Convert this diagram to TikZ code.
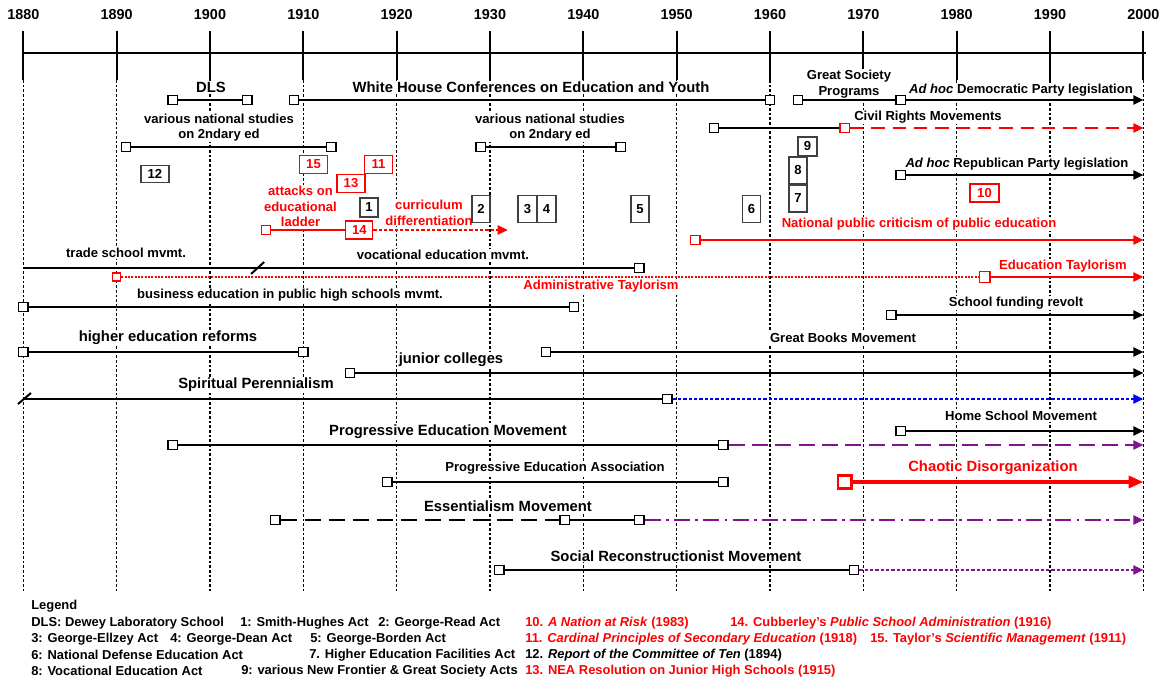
\documentclass[tikz,border=0pt]{standalone}
\usepackage{fontspec}
\setmainfont{Liberation Sans}
\usetikzlibrary{arrows.meta}
\definecolor{myred}{RGB}{255,0,0}
\definecolor{mypurple}{RGB}{128,20,140}
\definecolor{myblue}{RGB}{0,0,255}
\tikzset{
 big/.style={font=\bfseries\fontsize{11.1}{12}\selectfont, fill=white, inner sep=0.6pt, align=center},
 med/.style={font=\bfseries\fontsize{9.8}{11.8}\selectfont, fill=white, inner sep=0.6pt, align=center},
 yrlab/.style={font=\bfseries\fontsize{10.8}{13}\selectfont, inner sep=0pt},
 sq/.style={rectangle, draw=black, fill=white, line width=1pt, minimum size=7pt, inner sep=0pt},
 rsq/.style={sq, draw=myred},
 tl/.style={line width=1pt},
 arr/.style={-{Triangle[length=7.5pt,width=7pt]}},
 nbox/.style={rectangle, draw=black!75, fill=white, line width=0.9pt, font=\bfseries\fontsize{9.8}{12}\selectfont, inner sep=0pt},
 rbox/.style={nbox, draw=myred, text=myred},
 gridline/.style={line width=1pt, dash pattern=on 2pt off 1.5pt},
 leg/.style={font=\bfseries\fontsize{9.7}{12}\selectfont, anchor=west, inner sep=0pt},
}
\begin{document}
\begin{tikzpicture}[x=0.75pt,y=-0.75pt]
\useasboundingbox (0,0) rectangle (1165,681);
\fill[white] (0,0) rectangle (1165,681);

% ---------- grid and axis (years: t = year-1880) ----------
\begin{scope}[xshift=17.5pt,x=7pt]
\foreach \t/\yr in {0/1880,10/1890,20/1900,30/1910,40/1920,50/1930,60/1940,70/1950,80/1960,90/1970,100/1980,110/1990,120/2000}{
  \draw[line width=1.5pt] (\t,31) -- (\t,80);
  \draw[gridline] (\t,80) -- (\t,592);
  \node[yrlab] (y\yr) at (\t,15) {\yr};
}
\draw[line width=2pt] (0,53) -- (120.3,53);
\end{scope}

% ---------- labels ----------
\node[big] (tDLS) at (211,87) {DLS};
\node[big] (tWH) at (531,87) {White House Conferences on Education and Youth};
\node[med] (tGS) at (849,84) {Great Society\\Programs};
\node[med] (tDem) at (1021,90) {\textit{Ad hoc} Democratic Party legislation};
\node[med] (tNS1) at (219,127.5) {various national studies\\on 2ndary ed};
\node[med] (tNS2) at (550,127.5) {various national studies\\on 2ndary ed};
\node[med] (tCR) at (928,117) {Civil Rights Movements};
\node[med] (tRep) at (1017,164) {\textit{Ad hoc} Republican Party legislation};
\node[med, text=myred] (tAtt) at (300.5,206.5) {attacks on\\educational\\ladder};
\node[med, text=myred] (tCur) at (429,213) {curriculum\\differentiation};
\node[med, text=myred] (tNP) at (919,224) {National public criticism of public education};
\node[med] (tTS) at (126,253) {trade school mvmt.};
\node[med] (tVE) at (443,255) {vocational education mvmt.};
\node[med, text=myred] (tAT) at (601,286) {Administrative Taylorism};
\node[med, text=myred] (tET) at (1063,266) {Education Taylorism};
\node[med] (tBE) at (290,295) {business education in public high schools mvmt.};
\node[med] (tSF) at (1016,303) {School funding revolt};
\node[big] (tHE) at (168,338) {higher education reforms};
\node[med] (tGB) at (843,338) {Great Books Movement};
\node[big] (tJC) at (451,360) {junior colleges};
\node[big] (tSP) at (256,385) {Spiritual Perennialism};
\node[med] (tHS) at (1021,416) {Home School Movement};
\node[big] (tPM) at (448,432) {Progressive Education Movement};
\node[med] (tPA) at (555,468) {Progressive Education Association};
\node[big, text=myred] (tCD) at (993,468) {Chaotic Disorganization};
\node[big] (tEM) at (508,506) {Essentialism Movement};
\node[big] (tSR) at (676,556) {Social Reconstructionist Movement};

% ---------- numbered boxes ----------
\node[nbox, minimum width=21pt, minimum height=12.75pt] (b12) at (155,174) {12};
\node[rbox, minimum width=21pt, minimum height=13.5pt] (b15) at (313.5,164.5) {15};
\node[rbox, minimum width=21pt, minimum height=13.5pt] (b11) at (378.5,164.5) {11};
\node[rbox, minimum width=21pt, minimum height=14pt] (b13) at (351,183.5) {13};
\node[nbox, minimum width=13.5pt, minimum height=14.25pt] (b1) at (369,207.5) {1};
\node[nbox, minimum width=13.5pt, minimum height=20.25pt] (b2) at (481,209) {2};
\node[nbox, minimum width=14.25pt, minimum height=20.25pt] (b3) at (527.5,209) {3};
\node[nbox, minimum width=14.25pt, minimum height=20.25pt] (b4) at (546.5,209) {4};
\node[nbox, minimum width=13.5pt, minimum height=20.25pt] (b5) at (640,209) {5};
\node[nbox, minimum width=13.5pt, minimum height=20.25pt] (b6) at (751.5,209) {6};
\node[nbox, minimum width=14.25pt, minimum height=14.25pt] (b9) at (807.5,146.5) {9};
\node[nbox, minimum width=13.5pt, minimum height=20.25pt] (b8) at (798,170.5) {8};
\node[nbox, minimum width=13.5pt, minimum height=20.25pt] (b7) at (798,198.5) {7};
\node[rbox, minimum width=21.75pt, minimum height=13.5pt] (b10) at (984.5,193) {10};

% ---------- timelines ----------
\begin{scope}[xshift=17.5pt,x=7pt]
% row 100
\node[sq] (dls1) at (16,100) {}; \node[sq] (dls2) at (24,100) {};
\draw[tl] (dls1) -- (dls2);
\node[sq] (wh1) at (29,100) {}; \node[sq] (wh2) at (80,100) {};
\draw[tl] (wh1) -- (wh2);
\node[sq] (gs1) at (83,100) {}; \node[sq] (gs2) at (94,100) {};
\coordinate (gsE) at (120,100);
\draw[tl] (gs1) -- (gs2); \draw[tl,arr] (gs2) -- (gsE);
% civil rights
\node[sq] (cr1) at (74,128) {}; \node[rsq] (cr2) at (88,128) {};
\coordinate (crE) at (120,128);
\draw[tl] (cr1) -- (cr2);
\draw[tl,myred,arr,dash pattern=on 10pt off 6pt] (cr2) -- (crE);
% national studies
\node[sq] (ns1) at (11,147) {}; \node[sq] (ns2) at (33,147) {};
\draw[tl] (ns1) -- (ns2);
\node[sq] (ns3) at (49,147) {}; \node[sq] (ns4) at (64,147) {};
\draw[tl] (ns3) -- (ns4);
% republican
\node[sq] (rp1) at (94,175) {}; \coordinate (rpE) at (120,175);
\draw[tl,arr] (rp1) -- (rpE);
% attacks / curriculum
\node[rsq] (at1) at (26,230) {};
\node[rbox, minimum width=20.25pt, minimum height=13.5pt] (b14) at (36,230) {14};
\coordinate (atE) at (51.9,230);
\draw[tl,myred] (at1) -- (b14);
\draw[tl,myred,arr,dash pattern=on 2.5pt off 1.5pt] (b14) -- (atE);
% national public criticism
\node[rsq] (np1) at (72,240) {}; \coordinate (npE) at (120,240);
\draw[tl,myred,arr] (np1) -- (npE);
% trade / vocational
\coordinate (ts0) at (0,268); \node[sq] (ts1) at (66,268) {};
\draw[tl] (ts0) -- (ts1);
\draw[line width=1.5pt] (24.4,274) -- (25.8,262);
% administrative / education taylorism
\node[rsq, minimum size=6pt, line width=0.8pt] (adm1) at (10,277) {};
\node[rsq, minimum size=8pt, line width=1.2pt] (adm2) at (103,277) {};
\coordinate (admE) at (120,277);
\draw[myred,line width=0.8pt,dash pattern=on 1.5pt off 1pt] (adm1) -- (adm2);
\draw[myred,line width=1.3pt,arr] (adm2) -- (admE);
% business
\node[sq] (be1) at (0,307) {}; \node[sq] (be2) at (59,307) {};
\draw[tl] (be1) -- (be2);
% school funding
\node[sq] (sf1) at (93,315) {}; \coordinate (sfE) at (120,315);
\draw[tl,arr] (sf1) -- (sfE);
% higher ed / great books
\node[sq] (he1) at (0,352) {}; \node[sq] (he2) at (30,352) {};
\draw[tl] (he1) -- (he2);
\node[sq] (gb1) at (56,352) {}; \coordinate (gbE) at (120,352);
\draw[tl,arr] (gb1) -- (gbE);
% junior colleges
\node[sq] (jc1) at (35,373) {}; \coordinate (jcE) at (120,373);
\draw[tl,arr] (jc1) -- (jcE);
% spiritual perennialism
\coordinate (sp0) at (0,399); \node[sq] (sp1) at (69,399) {};
\coordinate (spE) at (120,399);
\draw[tl] (sp0) -- (sp1);
\draw[line width=1.3pt,myblue,arr,dash pattern=on 2.5pt off 1.5pt] (sp1) -- (spE);
\draw[line width=1.5pt] (-0.57,404) -- (0.82,393);
% home school
\node[sq] (hs1) at (94,431) {}; \coordinate (hsE) at (120,431);
\draw[tl,arr] (hs1) -- (hsE);
% progressive education movement
\node[sq] (pm1) at (16,445) {}; \node[sq] (pm2) at (75,445) {};
\coordinate (pmE) at (120,445);
\draw[tl] (pm1) -- (pm2);
\draw[line width=1.1pt,mypurple,arr,dash pattern=on 12pt off 5.5pt] (pm2) -- (pmE);
% progressive education association
\node[sq] (pa1) at (39,482) {}; \node[sq] (pa2) at (75,482) {};
\draw[tl] (pa1) -- (pa2);
% chaotic disorganization
\node[rsq, minimum size=10pt, line width=2pt] (cd1) at (88,482) {};
\coordinate (cdE) at (120,482);
\draw[myred,line width=2.3pt,-{Triangle[length=11pt,width=9pt]}] (cd1) -- (cdE);
% essentialism
\node[sq] (es1) at (27,520) {}; \node[sq] (es2) at (58,520) {}; \node[sq] (es3) at (66,520) {};
\coordinate (esE) at (120,520);
\draw[line width=1.2pt,dash pattern=on 12pt off 6pt] (es1) -- (es2);
\draw[tl] (es2) -- (es3);
\draw[line width=1.1pt,mypurple,arr,dash pattern=on 12pt off 4pt on 2pt off 4pt] (es3) -- (esE);
% social reconstructionist
\node[sq] (sr1) at (51,570) {}; \node[sq] (sr2) at (89,570) {};
\coordinate (srE) at (120,570);
\draw[tl] (sr1) -- (sr2);
\draw[line width=1.1pt,mypurple,arr,dash pattern=on 2.5pt off 1.5pt] (sr2) -- (srE);
\end{scope}

% ---------- legend ----------
\node[leg] (lg0) at (31,606) {Legend};
\node[leg] (lg1) at (31,623) {DLS: Dewey Laboratory School};
\node[leg] (lg2) at (240,623) {1: Smith-Hughes Act};
\node[leg] (lg3) at (378,623) {2: George-Read Act};
\node[leg, text=myred] (lg4) at (525,623) {10. \textit{A Nation at Risk} (1983)};
\node[leg, text=myred] (lg5) at (730,623) {14. Cubberley’s \textit{Public School Administration} (1916)};
\node[leg] (lg6) at (31,639) {3: George-Ellzey Act};
\node[leg] (lg7) at (170,639) {4: George-Dean Act};
\node[leg] (lg8) at (310,639) {5: George-Borden Act};
\node[leg, text=myred] (lg9) at (525,639) {11. \textit{Cardinal Principles of Secondary Education} (1918)};
\node[leg, text=myred] (lg10) at (870,639) {15. Taylor’s \textit{Scientific Management} (1911)};
\node[leg] (lg11) at (31,655) {6: National Defense Education Act};
\node[leg] (lg12) at (309,655) {7. Higher Education Facilities Act};
\node[leg] (lg13) at (525,655) {12. \textit{Report of the Committee of Ten} (1894)};
\node[leg] (lg14) at (31,671) {8: Vocational Education Act};
\node[leg] (lg15) at (241,671) {9: various New Frontier \& Great Society Acts};
\node[leg, text=myred] (lg16) at (525,671) {13. NEA Resolution on Junior High Schools (1915)};
\end{tikzpicture}
\end{document}
